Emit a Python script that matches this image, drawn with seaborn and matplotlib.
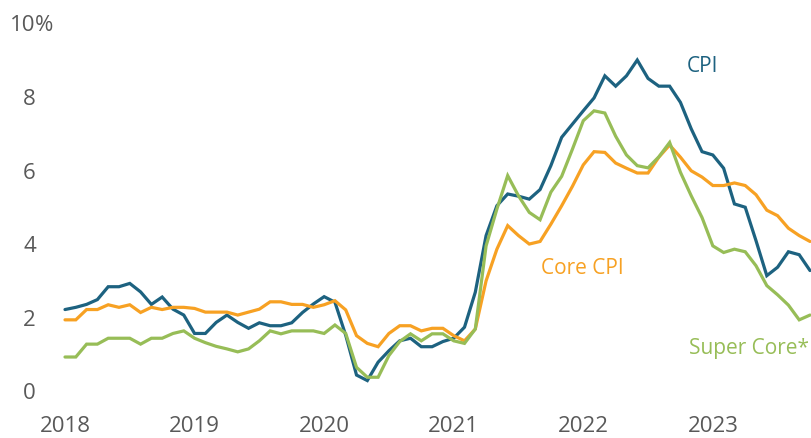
import matplotlib
matplotlib.use("Agg")
import matplotlib.pyplot as plt
import seaborn as sns
import pandas as pd

# monthly year-over-year change, Jan 2018 .. Oct 2023
cpi = [2.20, 2.26, 2.34, 2.47, 2.82, 2.82, 2.91, 2.68, 2.34, 2.54, 2.21, 2.05,
       1.55, 1.55, 1.85, 2.05, 1.85, 1.69, 1.84, 1.76, 1.76, 1.84, 2.12, 2.35,
       2.55, 2.40, 1.50, 0.42, 0.27, 0.77, 1.08, 1.35, 1.42, 1.19, 1.19, 1.33,
       1.42, 1.72, 2.67, 4.21, 5.02, 5.34, 5.28, 5.20, 5.46, 6.11, 6.88, 7.24,
       7.60, 7.95, 8.55, 8.27, 8.55, 8.98, 8.48, 8.27, 8.27, 7.83, 7.11, 6.49,
       6.40, 6.04, 5.07, 4.98, 4.07, 3.12, 3.35, 3.77, 3.69, 3.26]
core_cpi = [1.92, 1.92, 2.20, 2.20, 2.33, 2.26, 2.33, 2.12, 2.26, 2.20, 2.26, 2.26,
            2.23, 2.13, 2.13, 2.13, 2.05, 2.13, 2.21, 2.41, 2.41, 2.34, 2.34, 2.26,
            2.33, 2.44, 2.19, 1.49, 1.28, 1.19, 1.55, 1.76, 1.76, 1.62, 1.69, 1.69,
            1.49, 1.35, 1.67, 2.98, 3.84, 4.48, 4.21, 3.98, 4.05, 4.52, 5.02, 5.55,
            6.13, 6.49, 6.47, 6.18, 6.04, 5.91, 5.91, 6.34, 6.67, 6.34, 5.97, 5.80,
            5.57, 5.57, 5.64, 5.57, 5.32, 4.90, 4.75, 4.41, 4.21, 4.05]
super_core = [0.91, 0.91, 1.26, 1.26, 1.42, 1.42, 1.42, 1.26, 1.42, 1.42, 1.55, 1.62,
              1.42, 1.30, 1.20, 1.13, 1.05, 1.13, 1.35, 1.62, 1.54, 1.62, 1.62, 1.62,
              1.55, 1.78, 1.55, 0.63, 0.36, 0.36, 0.95, 1.33, 1.54, 1.35, 1.54, 1.54,
              1.35, 1.28, 1.67, 3.93, 4.93, 5.84, 5.29, 4.84, 4.64, 5.39, 5.82, 6.56,
              7.33, 7.60, 7.54, 6.91, 6.40, 6.11, 6.05, 6.35, 6.74, 5.93, 5.29, 4.70,
              3.93, 3.75, 3.84, 3.77, 3.39, 2.85, 2.60, 2.32, 1.92, 2.05]
series_names = ["CPI", "Core CPI", "Super Core*"]
year_ticks = [2018, 2019, 2020, 2021, 2022, 2023]
y_ticks = [0, 2, 4, 6, 8, 10]

colors = {"CPI": "#1d6280", "Core CPI": "#f7a123", "Super Core*": "#97bd57"}
text_grey = "#595959"

months = pd.date_range("2018-01-01", periods=len(cpi), freq="MS")
df = pd.DataFrame({"date": months, "CPI": cpi, "Core CPI": core_cpi,
                   "Super Core*": super_core})
long_df = df.melt(id_vars="date", var_name="series", value_name="value")
# fractional year so tick placement is simple
long_df["year"] = long_df["date"].dt.year + (long_df["date"].dt.month - 1) / 12

sns.set_theme(style="white")
plt.rcParams["font.family"] = ["Open Sans", "DejaVu Sans"]

fig = plt.figure(figsize=(8.12, 4.39), dpi=100)
ax = fig.add_axes([65 / 812, 47.5 / 439, 745 / 812, 368 / 439])

sns.lineplot(data=long_df, x="year", y="value", hue="series",
             hue_order=series_names, palette=colors, linewidth=2.3,
             legend=False, ax=ax)
for line in ax.lines:
    line.set_clip_on(False)
    line.set_solid_joinstyle("miter")

ax.set_xlim(2018, 2018 + (len(cpi) - 1) / 12)
ax.set_ylim(0, 10)
ax.set_xticks(year_ticks)
ax.set_xticklabels([str(y) for y in year_ticks])
ax.set_yticks(y_ticks)
ax.set_yticklabels([str(v) for v in y_ticks])
ax.tick_params(axis="both", length=0, labelsize=16, labelcolor=text_grey)
ax.tick_params(axis="y", pad=21)
ax.tick_params(axis="x", pad=18)
ax.set_xlabel("")
ax.set_ylabel("")
sns.despine(ax=ax, left=True, bottom=True)

# percent sign hanging after the top label
ax.annotate("%", xy=(0, 10), xycoords=("axes fraction", "data"),
            xytext=(-30, 0), textcoords="offset pixels", ha="left",
            va="center_baseline", fontsize=16, color=text_grey)

# direct series labels
ax.text(2022.80, 8.83, "CPI", color=colors["CPI"], fontsize=15,
        va="center")
ax.text(2021.67, 3.35, "Core CPI", color=colors["Core CPI"], fontsize=15,
        va="center")
ax.text(2022.815, 1.18, "Super Core*", color=colors["Super Core*"],
        fontsize=15, va="center")

fig.savefig("out.png", dpi=100)
